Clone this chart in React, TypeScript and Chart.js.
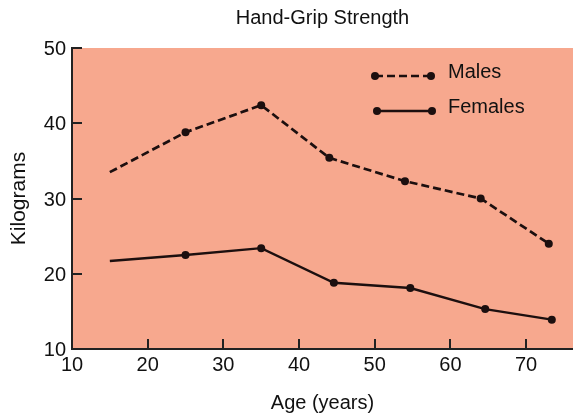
import React, { useEffect, useRef } from "react";
import { Chart, registerables } from "chart.js";

Chart.register(...registerables);

// Hand-grip strength by age
const TITLE = "Hand-Grip Strength";
const X_TITLE = "Age (years)";
const Y_TITLE = "Kilograms";

const MALE_AGES = [15, 25, 35, 44, 54, 64, 73];
const MALE_KG = [33.5, 38.8, 42.4, 35.4, 32.3, 30.0, 24.0];

const FEMALE_AGES = [15, 25, 35, 44.6, 54.7, 64.6, 73.4];
const FEMALE_KG = [21.7, 22.5, 23.4, 18.8, 18.1, 15.3, 13.9];

const X_TICKS = [10, 20, 30, 40, 50, 60, 70];
const Y_TICKS = [10, 20, 30, 40, 50];

const SERIES_LABELS = ["Males", "Females"];

const INK = "#1c0f0f";
const TEXT = "#111111";
const BG = "rgb(247,168,142)";
const FONT = "'Liberation Sans', Arial, Helvetica, sans-serif";
const DASH = [8, 4];

const toPoints = (xs: number[], ys: number[]) => xs.map((x, i) => ({ x, y: ys[i] }));
// first reading of each series has no marker
const markerRadii = (n: number) => Array.from({ length: n }, (_, i) => (i === 0 ? 0 : 4));

const plotBackground = {
  id: "plotBackground",
  beforeDraw(chart: any) {
    const { ctx, chartArea: a } = chart;
    ctx.save();
    ctx.fillStyle = BG;
    ctx.fillRect(a.left, a.top, a.right - a.left, a.bottom - a.top);
    ctx.restore();
  },
};

const innerTicks = {
  id: "innerTicks",
  afterDatasetsDraw(chart: any) {
    const { ctx, chartArea: a, scales } = chart;
    ctx.save();
    ctx.strokeStyle = "#222";
    ctx.lineWidth = 2;
    ctx.beginPath();
    for (const v of X_TICKS.slice(1)) {
      const px = Math.round(scales.x.getPixelForValue(v));
      ctx.moveTo(px, a.bottom);
      ctx.lineTo(px, a.bottom - 10);
    }
    for (const v of Y_TICKS.slice(1)) {
      const py = Math.round(scales.y.getPixelForValue(v));
      ctx.moveTo(a.left, py);
      ctx.lineTo(a.left + 10, py);
    }
    ctx.stroke();
    ctx.restore();
  },
};

const titleAndKey = {
  id: "titleAndKey",
  afterDraw(chart: any) {
    const { ctx, chartArea: a } = chart;
    ctx.save();
    ctx.fillStyle = TEXT;
    ctx.font = `20px ${FONT}`;
    ctx.textAlign = "center";
    ctx.textBaseline = "alphabetic";
    ctx.fillText(TITLE, (a.left + a.right) / 2, 24);

    // key
    const rows = [
      { y: 76, dash: DASH, x0: 375, x1: 431, label: chart.data.datasets[0].label },
      { y: 111, dash: [] as number[], x0: 377, x1: 432, label: chart.data.datasets[1].label },
    ];
    ctx.textAlign = "left";
    for (const r of rows) {
      ctx.strokeStyle = INK;
      ctx.lineWidth = 2.4;
      ctx.setLineDash(r.dash);
      ctx.beginPath();
      ctx.moveTo(r.x0, r.y);
      ctx.lineTo(r.x1, r.y);
      ctx.stroke();
      ctx.setLineDash([]);
      ctx.fillStyle = INK;
      for (const x of [r.x0, r.x1]) {
        ctx.beginPath();
        ctx.arc(x, r.y, 4, 0, Math.PI * 2);
        ctx.fill();
      }
      ctx.fillStyle = TEXT;
      ctx.fillText(r.label, 448, r.y + 2);
    }
    ctx.restore();
  },
};

export default function App() {
  const canvasRef = useRef<HTMLCanvasElement | null>(null);

  useEffect(() => {
    if (!canvasRef.current) return;
    const chart = new Chart(canvasRef.current, {
      type: "line",
      data: {
        datasets: [
          {
            label: SERIES_LABELS[0],
            data: toPoints(MALE_AGES, MALE_KG),
            borderColor: INK,
            backgroundColor: INK,
            borderWidth: 2.7,
            borderDash: DASH,
            pointRadius: markerRadii(MALE_AGES.length),
            pointBorderWidth: 0,
            tension: 0,
          },
          {
            label: SERIES_LABELS[1],
            data: toPoints(FEMALE_AGES, FEMALE_KG),
            borderColor: INK,
            backgroundColor: INK,
            borderWidth: 2.4,
            pointRadius: markerRadii(FEMALE_AGES.length),
            pointBorderWidth: 0,
            tension: 0,
          },
        ],
      },
      options: {
        animation: false,
        responsive: false,
        devicePixelRatio: 1,
        layout: { autoPadding: false, padding: { top: 48, right: 0, left: 0, bottom: 0 } },
        plugins: {
          legend: { display: false },
          title: { display: false },
          tooltip: { enabled: false },
        },
        scales: {
          x: {
            type: "linear",
            min: 10,
            max: 76.2,
            afterBuildTicks: (s: any) => {
              s.ticks = X_TICKS.map((value) => ({ value }));
            },
            afterFit: (s: any) => {
              s.height = 70;
            },
            grid: { display: false, drawTicks: false },
            border: { display: true, color: "#222", width: 2 },
            ticks: {
              color: TEXT,
              font: { family: FONT, size: 20 },
              padding: 4,
              maxRotation: 0,
              autoSkip: false,
            },
            title: {
              display: true,
              text: X_TITLE,
              color: TEXT,
              font: { family: FONT, size: 20 },
              padding: { top: 0, bottom: 4 },
            },
          },
          y: {
            type: "linear",
            min: 10,
            max: 50,
            afterBuildTicks: (s: any) => {
              s.ticks = Y_TICKS.map((value) => ({ value }));
            },
            afterFit: (s: any) => {
              s.width = 72;
            },
            grid: { display: false, drawTicks: false },
            border: { display: true, color: "#222", width: 2 },
            ticks: {
              color: TEXT,
              font: { family: FONT, size: 20 },
              padding: 6,
              labelOffset: 1.5,
            },
            title: {
              display: true,
              text: Y_TITLE,
              color: TEXT,
              font: { family: FONT, size: 21 },
              padding: { top: 7, bottom: 0 },
            },
          },
        },
      },
      plugins: [plotBackground, innerTicks, titleAndKey],
    });
    return () => chart.destroy();
  }, []);

  return (
    <div style={{ position: "absolute", left: 0, top: 0, width: 573, height: 419, background: "#fff" }}>
      <canvas ref={canvasRef} width={573} height={419} style={{ display: "block" }} />
    </div>
  );
}
